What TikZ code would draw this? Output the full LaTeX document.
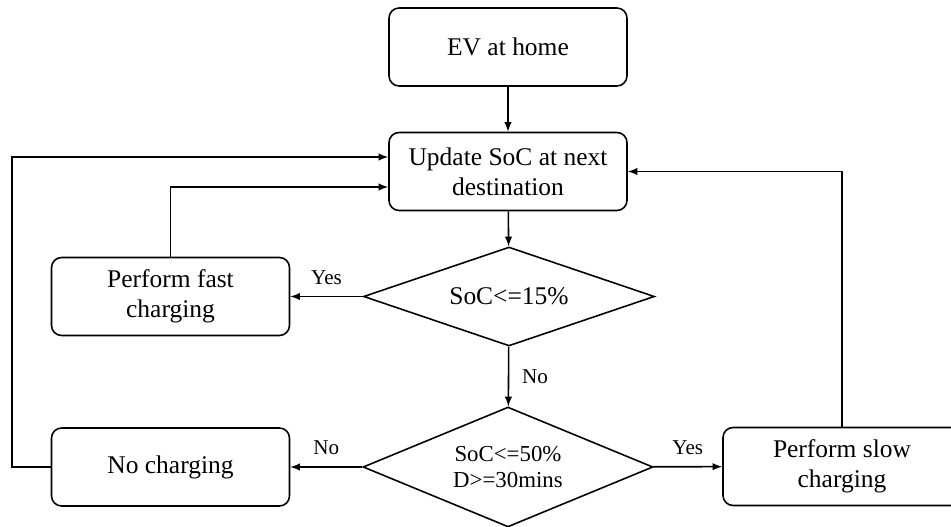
\documentclass[tikz,border=0pt]{standalone}
\usepackage{fontspec}
\setmainfont{Liberation Serif}
\usetikzlibrary{arrows,shapes.geometric}

\begin{document}
\begin{tikzpicture}[x=0.02cm, y=-0.02cm, >=latex,
	box/.style={draw, rounded corners=0.2cm, line width=0.9pt, minimum width=4.76cm, minimum height=1.56cm, align=center, font=\fontsize{14.5}{17}\selectfont},
	decision/.style={draw, diamond, line width=0.9pt, inner sep=0pt, align=center},
	flow/.style={->, line width=0.9pt},
	lbl/.style={font=\fontsize{12}{14}\selectfont}]
	\useasboundingbox (0,0) rectangle (951,527);
	% Draw the boxes of the main branch
	\node[box] (home) at (508,47) {EV at home};
	\node[box] (update) at (508,171.5) {Update SoC at next\\destination};
	\node[decision, aspect=2.94, minimum width=5.82cm, minimum height=1.98cm, font=\fontsize{14.5}{17}\selectfont] (soc15) at (509,296.5) {SoC<=15\%};
	\node[decision, aspect=2.42, minimum width=5.8cm, minimum height=2.4cm, font=\fontsize{13}{14.5}\selectfont] (soc50) at (508,467) {SoC<=50\%\\D>=30mins};
	
	% Draw the charging options
	\node[box] (fast) at (170.5,296.5) {Perform fast\\charging};
	\node[box] (nocharge) at (170.5,467) {No charging};
	\node[box] (slow) at (842,466.5) {Perform slow\\charging};
	
	% Draw the connectors
	\draw[flow] (home) -- (update);
	\draw[flow] (update) -- (soc15);
	\draw[flow] (soc15) -- (fast) node[midway, above=3pt, lbl] {Yes};
	\draw[flow] (soc15) -- (soc50) node[midway, right=4pt, lbl] {No};
	\draw[flow] (soc50) -- (nocharge) node[midway, above=3pt, lbl] {No};
	\draw[flow] (soc50) -- (slow) node[midway, above=3pt, lbl] {Yes};
	
	% Loop back to the update step
	\draw[flow] (fast.north) |- ([yshift=-0.31cm]update.west);
	\draw[flow] (nocharge.west) -- ++(-39,0) |- ([yshift=0.29cm]update.west);
	\draw[flow] (slow.north) |- (update.east);
\end{tikzpicture}
\end{document}
